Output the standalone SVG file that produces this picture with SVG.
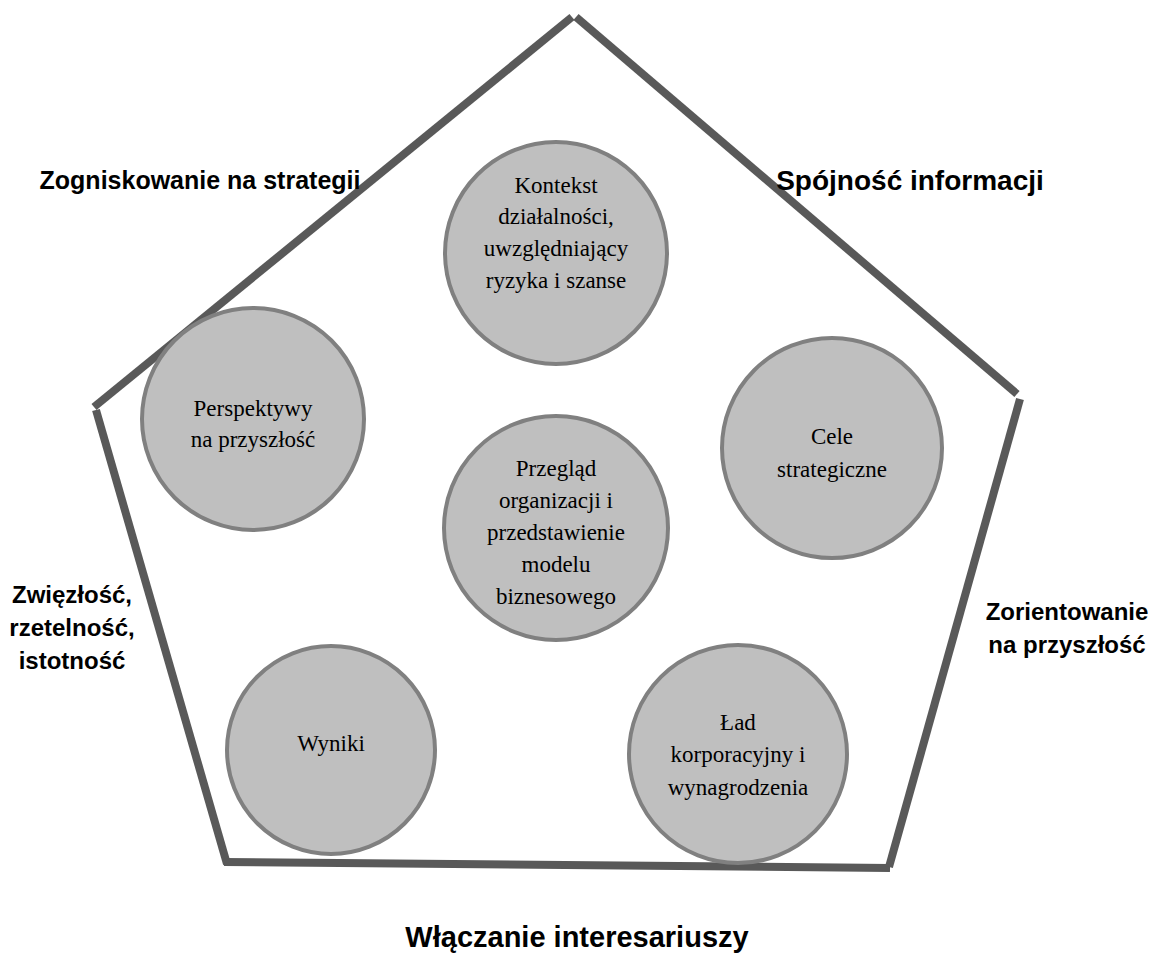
<svg xmlns="http://www.w3.org/2000/svg" width="1153" height="970" viewBox="0 0 1153 970">
<style>
.edge{stroke:#595959;stroke-width:8;fill:none;stroke-linecap:butt}
.c{fill:#bfbfbf;stroke:#808080;stroke-width:4}
.t{font-family:"Liberation Serif","Times New Roman",serif;font-size:23px;fill:#000;text-anchor:middle}
.l{font-family:"Liberation Sans",Arial,sans-serif;font-size:24px;font-weight:bold;fill:#000;text-anchor:middle}
</style>
<rect width="1153" height="970" fill="#fff"/>
<g id="connectors">
<line class="edge" x1="94" y1="407" x2="572" y2="17"/>
<line class="edge" x1="576" y1="17" x2="1017" y2="394"/>
<line class="edge" x1="96" y1="410" x2="227" y2="864"/>
<line class="edge" x1="224" y1="862" x2="890" y2="868"/>
<line class="edge" x1="1020" y1="399" x2="889" y2="867"/>
</g>
<g id="node-kontekst">
<circle class="c" cx="556" cy="253" r="111"/>
<text class="t" x="556" y="193">Kontekst</text>
<text class="t" x="556" y="224">działalności,</text>
<text class="t" x="556" y="256">uwzględniający</text>
<text class="t" x="556" y="288">ryzyka i szanse</text>
</g>
<g id="node-perspektywy">
<circle class="c" cx="253" cy="419" r="111"/>
<text class="t" x="253" y="416">Perspektywy</text>
<text class="t" x="253" y="447">na przyszłość</text>
</g>
<g id="node-przeglad">
<circle class="c" cx="556" cy="528" r="112"/>
<text class="t" x="556" y="476">Przegląd</text>
<text class="t" x="556" y="508">organizacji i</text>
<text class="t" x="556" y="540">przedstawienie</text>
<text class="t" x="556" y="572">modelu</text>
<text class="t" x="556" y="604">biznesowego</text>
</g>
<g id="node-cele">
<circle class="c" cx="832" cy="448" r="110"/>
<text class="t" x="832" y="444">Cele</text>
<text class="t" x="832" y="477">strategiczne</text>
</g>
<g id="node-wyniki">
<circle class="c" cx="331" cy="750" r="104"/>
<text class="t" x="331" y="751">Wyniki</text>
</g>
<g id="node-lad">
<circle class="c" cx="738" cy="754" r="109"/>
<text class="t" x="738" y="730">Ład</text>
<text class="t" x="738" y="762">korporacyjny i</text>
<text class="t" x="738" y="795">wynagrodzenia</text>
</g>
<g id="labels">
<text class="l" x="200" y="189" style="font-size:25px">Zogniskowanie na strategii</text>
<text class="l" x="910" y="190" style="font-size:28px">Spójność informacji</text>
<text class="l" x="72" y="603">Zwięzłość,</text>
<text class="l" x="72" y="636">rzetelność,</text>
<text class="l" x="72" y="669">istotność</text>
<text class="l" x="1067" y="620">Zorientowanie</text>
<text class="l" x="1067" y="653">na przyszłość</text>
<text class="l" x="577" y="947" style="font-size:29px">Włączanie interesariuszy</text>
</g>
</svg>
